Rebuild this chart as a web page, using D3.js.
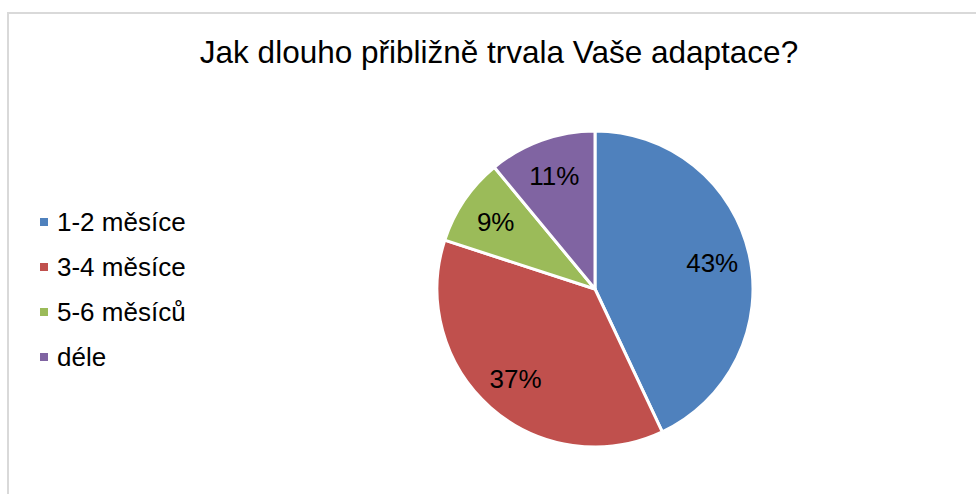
<!DOCTYPE html>
<html>
<head>
<meta charset="utf-8">
<script src="https://d3js.org/d3.v7.min.js"></script>
<style>
  html, body { margin: 0; padding: 0; background: #fff; }
  svg { display: block; font-family: "Liberation Sans", Arial, sans-serif; }
</style>
</head>
<body>
<div class="chart"></div>
<script>
// --- data ---------------------------------------------------------------
var title = "Jak dlouho přibližně trvala Vaše adaptace?";
var categories = ["1-2 měsíce", "3-4 měsíce", "5-6 měsíců", "déle"];
var values = [43, 37, 9, 11];
var colors = ["#4f81bd", "#c0504d", "#9bbb59", "#8064a2"];

var width = 976, height = 494;
var cx = 595, cy = 289, radius = 158;

var svg = d3.select(".chart")
    .append("svg")
    .attr("width", width)
    .attr("height", height);

// frame
svg.append("rect")
    .attr("x", 8)
    .attr("y", 13)
    .attr("width", width + 20)
    .attr("height", height + 20)
    .attr("fill", "none")
    .attr("stroke", "#d9d9d9")
    .attr("stroke-width", 2);

svg.append("text")
    .attr("x", 499)
    .attr("y", 63)
    .attr("text-anchor", "middle")
    .attr("font-size", 31.5)
    .attr("fill", "#000")
    .text(title);

var rows = categories.map(function(c, i) {
    return { name: c, value: values[i], color: colors[i] };
});

var pie = d3.pie()
    .sort(null)
    .value(function(d) { return d.value; });

var arc = d3.arc()
    .innerRadius(0)
    .outerRadius(radius);

var labelArc = d3.arc()
    .innerRadius(radius * 0.76)
    .outerRadius(radius * 0.76);

var g = svg.append("g")
    .attr("transform", "translate(" + cx + "," + cy + ")");

var total = d3.sum(values);

var slice = g.selectAll(".slice")
    .data(pie(rows))
    .enter()
    .append("g")
    .attr("class", "slice");

slice.append("path")
    .attr("d", arc)
    .attr("fill", function(d) { return d.data.color; })
    .attr("stroke", "#fff")
    .attr("stroke-width", 3)
    .attr("stroke-linejoin", "round");

slice.append("text")
    .attr("transform", function(d) {
        return "translate(" + labelArc.centroid(d) + ")";
    })
    .attr("dy", "0.35em")
    .attr("text-anchor", "middle")
    .attr("font-size", 26)
    .attr("fill", "#000")
    .text(function(d) { return Math.round(d.data.value / total * 100) + "%"; });

// legend
var legend = svg.append("g")
    .attr("transform", "translate(40,222)");

var item = legend.selectAll(".item")
    .data(rows)
    .enter()
    .append("g")
    .attr("class", "item")
    .attr("transform", function(d, i) { return "translate(0," + (i * 45) + ")"; });

item.append("rect")
    .attr("x", 0)
    .attr("y", -4)
    .attr("width", 8)
    .attr("height", 8)
    .attr("fill", function(d) { return d.color; });

item.append("text")
    .attr("x", 17)
    .attr("y", 0)
    .attr("dy", "0.35em")
    .attr("font-size", 26)
    .attr("fill", "#000")
    .text(function(d) { return d.name; });
</script>
</body>
</html>
